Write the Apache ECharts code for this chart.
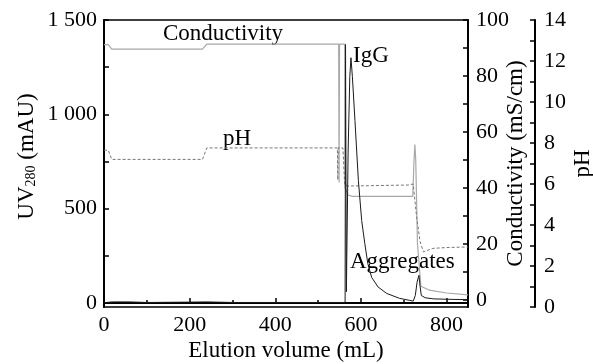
<!DOCTYPE html>
<html>
<head>
<meta charset="utf-8">
<script src="https://cdn.jsdelivr.net/npm/echarts@6/dist/echarts.min.js"></script>
<style>
  html, body { margin: 0; padding: 0; background: #fff; }
  #chart { width: 593px; height: 364px; }
</style>
</head>
<body>
<div id="chart"></div>
<script>
// UV280 trace (mAU)
const uvVolume = [0, 20, 60, 100, 200, 240, 300, 400, 500, 563, 564, 566, 570, 574, 576.7, 580, 586, 594, 601.7, 609, 616, 625, 640, 660, 690, 714, 722, 727, 731, 735.5, 738, 741, 750, 770, 800, 850]
const uvValues = [2, 6, 6, 3, 5, 6, 3, 3, 3, 3, 1370, 60, 800, 1200, 1300, 1200, 968, 650, 438, 316, 210, 136, 85, 51, 25, 14, 10, 40, 110, 147, 90, 40, 28, 22, 20, 18]

// conductivity trace (mS/cm)
const condVolume = [0, 10, 18, 230, 240, 548, 549, 550, 562, 563, 570, 580, 721, 724, 726, 728, 732, 740, 760, 800, 850]
const condValues = [91.2, 91.2, 89.6, 89.6, 91.4, 91.4, 42, 91.4, 91.4, 40, 37.5, 37, 37, 50, 55.5, 50, 20, 4.9, 3.5, 2.5, 1.8]

// pH trace
const phVolume = [0, 10, 18, 230, 240, 545, 546, 547, 558, 562, 570, 710, 722, 726, 730, 738, 746, 768, 800, 850]
const phValues = [7.65, 7.65, 7.2, 7.2, 7.76, 7.76, 6.2, 7.76, 7.76, 5.95, 5.9, 5.95, 6.0, 6.0, 4.4, 3.2, 2.69, 2.86, 2.9, 2.93]

const uvTicks = [0, 250, 500, 750, 1000, 1250, 1500]
const uvLabelValues = [0, 500, 1000, 1500]
const uvTickLabels = ['0', '500', '1 000', '1 500']
const condTicks = [0, 10, 20, 30, 40, 50, 60, 70, 80, 90, 100]
const condTickLabels = [0, 20, 40, 60, 80, 100]

const pairs = (xs, ys) => xs.map((x, i) => [x, ys[i]])
const font = 'Liberation Serif'

const myChart = echarts.init(document.getElementById('chart'))
myChart.setOption({
  animation: false,
  textStyle: { fontFamily: font },
  grid: {
    left: 104, right: 125, top: 20, bottom: 57,
    outerBoundsMode: 'none',
    show: true, borderColor: '#000', borderWidth: 1.5,
  },
  xAxis: {
    type: 'value',
    min: 0,
    max: 850,
    interval: 200,
    name: 'Elution volume (mL)',
    nameLocation: 'middle',
    nameGap: 32,
    nameMoveOverlap: false,
    nameTextStyle: { fontFamily: font, fontSize: 23, color: '#000' },
    axisLine: { lineStyle: { color: '#000', width: 2 } },
    axisTick: { inside: true, length: 5, lineStyle: { color: '#000', width: 1.5 } },
    minorTick: { show: true, splitNumber: 2, length: 3, lineStyle: { color: '#000', width: 1.5 } },
    axisLabel: { fontFamily: font, fontSize: 22, color: '#000', margin: 7 },
    splitLine: { show: false },
  },
  yAxis: [
    {
      type: 'value',
      min: -21,
      max: 1500,
      position: 'left',
      name: '{a|UV}{s|280}{a| (mAU)}',
      nameLocation: 'middle',
      nameRotate: 90,
      nameGap: 66,
      nameMoveOverlap: false,
      nameTextStyle: {
        padding: [0, 0, 0, 14],
        rich: {
          a: { fontFamily: font, fontSize: 23, color: '#000' },
          s: { fontFamily: font, fontSize: 14, color: '#000', verticalAlign: 'bottom' },
        },
      },
      axisLine: { show: true, lineStyle: { color: '#000', width: 2 } },
      axisTick: { show: true, inside: true, length: 5, customValues: uvTicks, lineStyle: { color: '#000', width: 1.5 } },
      axisLabel: {
        fontFamily: font, fontSize: 22, color: '#000', margin: 7,
        customValues: uvLabelValues,
        formatter: (v) => uvTickLabels[uvLabelValues.indexOf(v)],
      },
      splitLine: { show: false },
    },
    {
      type: 'value',
      min: -2.5,
      max: 100,
      position: 'right',
      name: 'Conductivity (mS/cm)',
      nameLocation: 'middle',
      nameRotate: 90,
      nameGap: 36,
      nameMoveOverlap: false,
      nameTextStyle: { fontFamily: font, fontSize: 23, color: '#000' },
      axisLine: { show: true, lineStyle: { color: '#000', width: 2 } },
      axisTick: { show: true, inside: true, length: 5, customValues: condTicks, lineStyle: { color: '#000', width: 1.5 } },
      axisLabel: { fontFamily: font, fontSize: 22, color: '#000', margin: 8, customValues: condTickLabels },
      splitLine: { show: false },
    },
    {
      type: 'value',
      min: 0,
      max: 14,
      interval: 2,
      position: 'right',
      offset: 67,
      name: 'pH',
      nameLocation: 'middle',
      nameRotate: 90,
      nameGap: 36,
      nameMoveOverlap: false,
      nameTextStyle: { fontFamily: font, fontSize: 23, color: '#000' },
      axisLine: { show: true, lineStyle: { color: '#000', width: 2 } },
      axisTick: { show: true, inside: true, length: 5, lineStyle: { color: '#000', width: 1.5 } },
      minorTick: { show: true, splitNumber: 2, length: 5, lineStyle: { color: '#000', width: 1.5 } },
      axisLabel: { fontFamily: font, fontSize: 22, color: '#000', margin: 9 },
      splitLine: { show: false },
    },
  ],
  graphic: [
    { type: 'text', left: 163, top: 22, style: { text: 'Conductivity', font: '23px "Liberation Serif"', fill: '#000' } },
    { type: 'text', left: 223, top: 127, style: { text: 'pH', font: '23px "Liberation Serif"', fill: '#000' } },
    { type: 'text', left: 353, top: 44, style: { text: 'IgG', font: '23px "Liberation Serif"', fill: '#000' } },
    { type: 'text', left: 350, top: 250, style: { text: 'Aggregates', font: '23px "Liberation Serif"', fill: '#000' } },
  ],
  series: [
    {
      name: 'UV280',
      type: 'line',
      yAxisIndex: 0,
      showSymbol: false,
      data: pairs(uvVolume, uvValues),
      lineStyle: { color: '#1a1a1a', width: 1 },
      z: 3,
    },
    {
      name: 'Conductivity',
      type: 'line',
      yAxisIndex: 1,
      showSymbol: false,
      data: pairs(condVolume, condValues),
      lineStyle: { color: '#a8a8a8', width: 1.2 },
      z: 2,
    },
    {
      name: 'pH',
      type: 'line',
      yAxisIndex: 2,
      showSymbol: false,
      data: pairs(phVolume, phValues),
      lineStyle: { color: '#777', width: 1, type: [3, 2] },
      z: 2,
    },
  ],
})
</script>
</body>
</html>
